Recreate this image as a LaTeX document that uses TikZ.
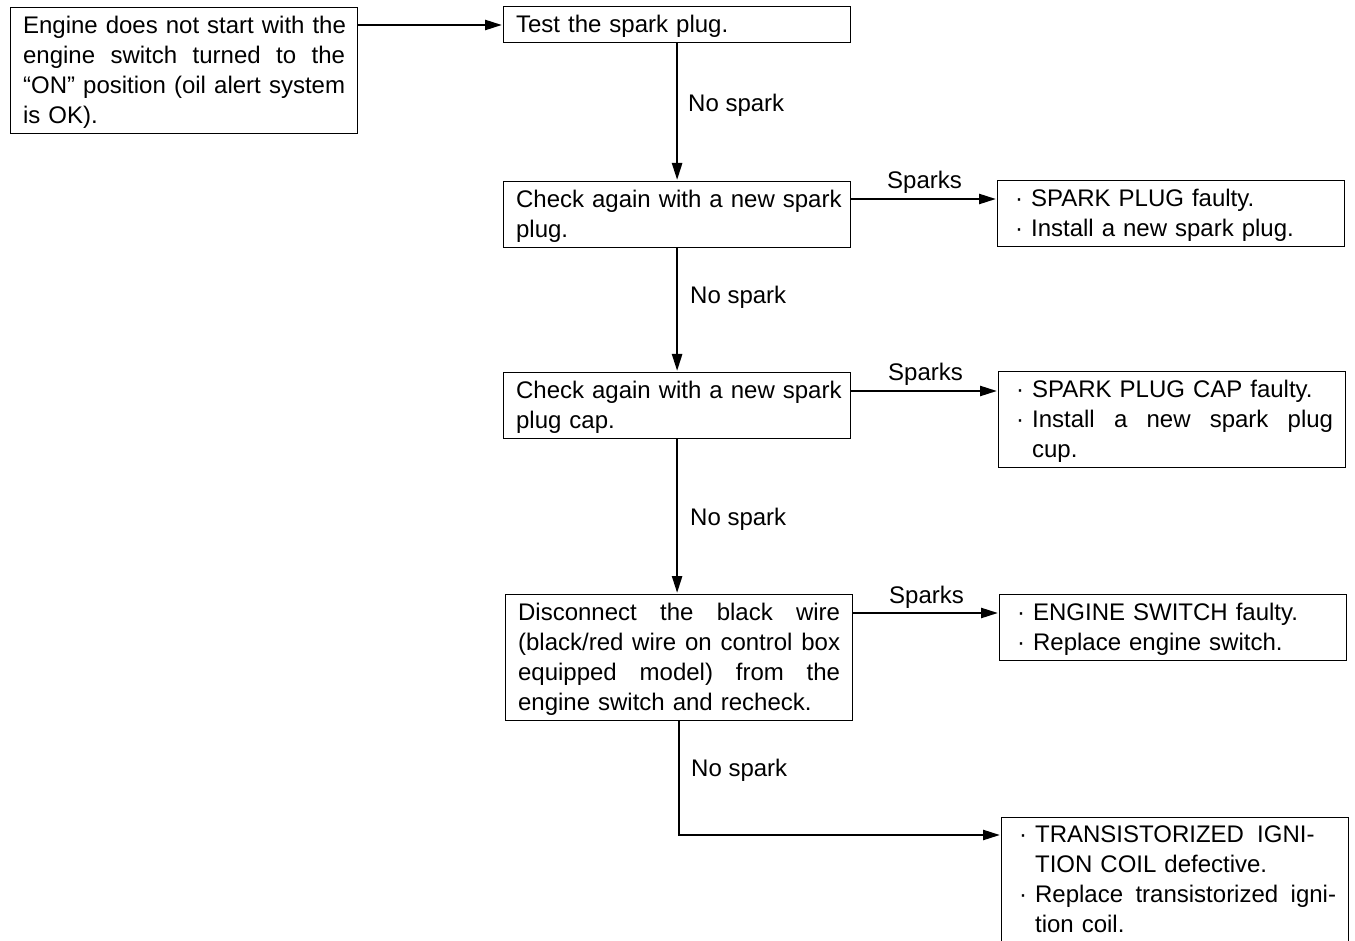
\documentclass[tikz,border=0pt]{standalone}
\usepackage{fontspec}
\setmainfont{Liberation Sans}
\usetikzlibrary{arrows.meta,calc}
\newlength\bind \setlength\bind{21pt}
\newlength\tw \setlength\tw{322pt}
\newlength\twb \setlength\twb{301pt}
\newcommand\bul{\makebox[\bind][l]{\hspace{5pt}·}}
\newcommand\jl[1]{\hbox to \tw{#1}}
\newcommand\jb[1]{\hbox to \twb{#1}}
\newcommand\ind{\hspace*{\bind}}
\begin{document}
\begin{tikzpicture}[x=1pt,y=-1pt,
  box/.style={draw, line width=1.2pt, anchor=north west, text width=\tw,
    inner xsep=12.5pt, inner ysep=3pt, font=\fontsize{24}{30}\selectfont,
    execute at begin node={\noindent\rule{0pt}{22.5pt}},
    execute at end node={\rule[-7.5pt]{0pt}{7.5pt}}},
  lab/.style={anchor=base west, inner sep=0pt, font=\fontsize{24}{30}\selectfont},
  arr/.style={line width=2.4pt, shorten >=1pt, -{Triangle[length=17pt,width=10pt]}}]
\useasboundingbox (0,0) rectangle (1355,941);
% left column
\node[box] (A) at (10,7) {\jl{Engine \hfill does \hfill not \hfill start \hfill with \hfill the}\newline
  \jl{engine \hfill switch \hfill turned \hfill to \hfill the}\newline
  \jl{“ON” \hfill position \hfill (oil \hfill alert \hfill system}\newline is OK).};
\node[box] (B) at (503,6) {Test the spark plug.};
\node[box] (C) at (503,181) {\jl{Check \hfill again \hfill with \hfill a \hfill new \hfill spark}\newline plug.};
\node[box] (D) at (503,372) {\jl{Check \hfill again \hfill with \hfill a \hfill new \hfill spark}\newline plug cap.};
\node[box] (E) at (505,594) {\jl{Disconnect \hfill the \hfill black \hfill wire}\newline
  \jl{(black/red \hfill wire \hfill on \hfill control \hfill box}\newline
  \jl{equipped \hfill model) \hfill from \hfill the}\newline engine switch and recheck.};
% right column
\node[box] (R1) at (997,180) {\bul SPARK PLUG faulty.\newline\bul Install a new spark plug.};
\node[box] (R2) at (998,371) {\bul SPARK PLUG CAP faulty.\newline
  \bul\jb{Install \hfill a \hfill new \hfill spark \hfill plug}\newline\ind cup.};
\node[box] (R3) at (999,594) {\bul ENGINE SWITCH faulty.\newline\bul Replace engine switch.};
\node[box] (R4) at (1001,816.5) {\bul TRANSISTORIZED\hspace{0.55em}IGNI-\newline
  \ind TION COIL defective.\newline
  \bul\jb{Replace \hfill transistorized \hfill igni-}\newline\ind tion coil.};
% connectors
\coordinate (a1) at ($(A.north east)+(0,18)$);
\draw[arr] (a1) -- (a1 -| B.west);
\draw[arr] (B.south) -- (B.south |- C.north);
\draw[arr] (C.south) -- (C.south |- D.north);
\draw[arr] (D.south) -- (D.south |- E.north);
\coordinate (c1) at ($(C.north east)+(0,18)$);
\draw[arr] (c1) -- (c1 -| R1.west);
\coordinate (d1) at ($(D.north east)+(0,19)$);
\draw[arr] (d1) -- (d1 -| R2.west);
\coordinate (e1) at ($(E.north east)+(0,19)$);
\draw[arr] (e1) -- (e1 -| R3.west);
\coordinate (e2) at ($(R4.north west)+(0,18.5)$);
\draw[arr] (E.south) |- (e2);
% labels
\node[lab] (n1) at (688,112) {No spark};
\node[lab] (n2) at (690,304) {No spark};
\node[lab] (n3) at (690,525) {No spark};
\node[lab] (n4) at (691,776) {No spark};
\node[lab] (s1) at (887,189) {Sparks};
\node[lab] (s2) at (888,381) {Sparks};
\node[lab] (s3) at (889,603) {Sparks};
\end{tikzpicture}
\end{document}
